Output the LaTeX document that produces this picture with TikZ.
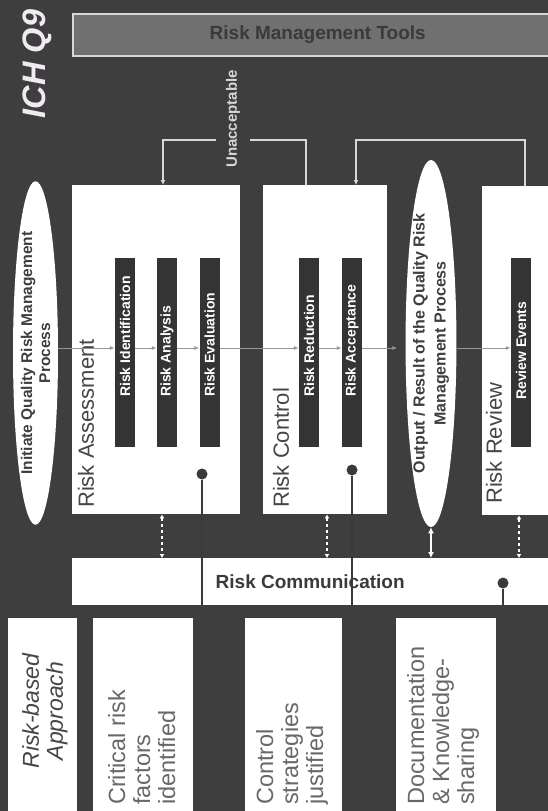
\documentclass[tikz,border=0pt]{standalone}
\usepackage{fontspec}
\setmainfont{Liberation Sans}
\usepackage{tikz}
\usetikzlibrary{arrows.meta}
\usetikzlibrary{shapes.geometric}

\definecolor{bgc}{RGB}{62,62,62}
\definecolor{barc}{RGB}{52,52,52}
\definecolor{toolc}{RGB}{112,112,112}
\definecolor{tooltxt}{RGB}{58,58,58}
\definecolor{labc}{RGB}{70,70,70}
\definecolor{ovalc}{RGB}{62,62,62}
\definecolor{outc}{RGB}{104,104,104}
\definecolor{flowc}{RGB}{150,150,150}
\definecolor{loopc}{RGB}{215,215,215}
\definecolor{titlec}{RGB}{242,234,242}

\begin{document}
\begin{tikzpicture}%
	[x=1pt, y=-1pt,
	box/.style={fill=white, inner sep=0pt, anchor=north west},
	bar/.style={fill=barc, minimum width=20pt, minimum height=189pt, inner sep=0pt},
	bartext/.style={rotate=90, anchor=west, inner sep=0pt, text=white, font=\bfseries\fontsize{14}{16}\selectfont},
	steplabel/.style={rotate=90, anchor=west, inner sep=0pt, text=labc, font=\fontsize{22}{26}\selectfont},
	oval/.style={ellipse, fill=white, rotate=90, inner sep=0pt, align=center, text=ovalc},
	flow/.style={draw=flowc, line width=1pt, -{Latex[length=5pt,width=4pt]}},
	loop/.style={draw=loopc, line width=1.4pt},
	link/.style={draw=white, line width=1.3pt, dashed, {Latex[length=4pt,width=5pt]}-{Latex[length=4pt,width=5pt]}},
	solidlink/.style={draw=white, line width=2pt, {Latex[length=6pt,width=6pt]}-{Latex[length=6pt,width=6pt]}},
	knob/.style={circle, fill=tooltxt, inner sep=0pt, minimum size=11pt},
	knobline/.style={draw=tooltxt, line width=1.4pt},
	outcome/.style={fill=white, anchor=north west, inner sep=0pt, minimum height=200pt},
	outtext/.style={rotate=90, anchor=north west, inner sep=0pt, align=left, text=outc, font=\fontsize{23.5}{25}\selectfont}]
%%
\useasboundingbox (0,0) rectangle (548,811);
\clip (0,0) rectangle (548,811);
\fill[bgc] (0,0) rectangle (548,811);
%%
%% Title and tools
%%
\node[rotate=90, inner sep=0pt, text=titlec, font=\bfseries\itshape\fontsize{32.5}{38}\selectfont] (title) at (37,64) {ICH Q9};
\node[box, draw=loopc, line width=1.5pt, fill=toolc, minimum width=490pt, minimum height=42pt, text=tooltxt, font=\bfseries\fontsize{19}{22}\selectfont] (tools) at (72,13) {Risk Management Tools};
%%
%% Start and output
%%
\node[oval, minimum width=330pt, minimum height=45pt, font=\bfseries\fontsize{15.5}{18}\selectfont] (init) at (35.5,353) {Initiate Quality Risk Management\\Process};
\node[oval, minimum width=337pt, minimum height=48pt, font=\bfseries\fontsize{16}{21}\selectfont] (out) at (431,343.5) {Output / Result of the Quality Risk\\Management Process};
%%
%% Stage boxes
%%
\node[box, minimum width=168pt, minimum height=329pt] (ra) at (72,185) {};
\node[box, minimum width=124pt, minimum height=329pt] (rc) at (263,185) {};
\node[box, minimum width=80pt, minimum height=329pt] (rr) at (482,186) {};
\node[steplabel] (ralab) at (86,508) {Risk Assessment};
\node[steplabel] (rclab) at (281,508) {Risk Control};
\node[steplabel] (rrlab) at (494,504) {Risk Review};
%%
%% Steps
%%
\node[bar] (rid) at (125,352.5) {};
\node[bar] (ran) at (167,352.5) {};
\node[bar] (rev) at (209.5,352.5) {};
\node[bar] (rred) at (309,352.5) {};
\node[bar] (racc) at (352,352.5) {};
\node[bar] (revt) at (521,352.5) {};
\node[bartext] (ridt) at (125,397) {Risk Identification};
\node[bartext] (rant) at (167,397) {Risk Analysis};
\node[bartext] (revtx) at (209.5,397) {Risk Evaluation};
\node[bartext] (rredt) at (309,397) {Risk Reduction};
\node[bartext] (racct) at (352,397) {Risk Acceptance};
\node[bartext] (revtt) at (521,400) {Review Events};
%%
%% Flow
%%
\coordinate (fl) at (0,348);
\draw[flow] (init.south |- fl) -- (rid.west |- fl);
\draw[flow] (rid.east |- fl) -- (ran.west |- fl);
\draw[flow] (ran.east |- fl) -- (rev.west |- fl);
\draw[flow] (rev.east |- fl) -- (rred.west |- fl);
\draw[flow] (rred.east |- fl) -- (racc.west |- fl);
\draw[flow] (racc.east |- fl) -- ([xshift=-8pt]out.north |- fl);
\draw[flow] (out.south |- fl) -- (revt.west |- fl);
%%
%% Feedback loops
%%
\coordinate (uy) at (0,140);
\draw[loop, -{Latex[length=5pt,width=5pt]}] ([xshift=43pt]rc.north west) |- ([xshift=91pt]ra.north west |- uy) -- ([xshift=91pt]ra.north west);
\draw[loop, -{Latex[length=5pt,width=5pt]}] ([xshift=43pt]rr.north west) |- ([xshift=93pt]rc.north west |- uy) -- ([xshift=93pt]rc.north west);
\node[rotate=90, fill=bgc, inner xsep=0pt, inner ysep=10pt, text=loopc, font=\bfseries\fontsize{15}{18}\selectfont] (unacc) at (233,119) {Unacceptable};
%%
%% Communication
%%
\node[box, minimum width=476pt, minimum height=47pt, text=tooltxt, font=\bfseries\fontsize{19}{22}\selectfont] (comm) at (72,558) {Risk Communication};
\draw[link] ([xshift=90pt]ra.south west) -- ([xshift=90pt]ra.south west |- comm.north);
\draw[link] ([xshift=64pt]rc.south west) -- ([xshift=64pt]rc.south west |- comm.north);
\draw[link] ([xshift=37pt]rr.south west) -- ([xshift=37pt]rr.south west |- comm.north);
\draw[solidlink] (out.west) -- (out.west |- comm.north);
\node[knob] (k1) at (202,474) {};
\node[knob] (k2) at (352,470) {};
\node[knob] (k3) at (503,583) {};
\draw[knobline] (k1) -- (k1 |- comm.south);
\draw[knobline] (k2) -- (k2 |- comm.south);
\draw[knobline] (k3) -- (k3 |- comm.south);
%%
%% Risk-based approach
%%
\node[outcome, minimum width=69pt] (rba) at (8,618) {};
\node[outcome, minimum width=100pt] (crit) at (93,618) {};
\node[outcome, minimum width=97pt] (ctrl) at (245,618) {};
\node[outcome, minimum width=100pt] (docu) at (396,618) {};
\node[rotate=90, align=center, inner sep=0pt, text=labc, font=\itshape\fontsize{23}{24}\selectfont] (rbat) at (45,711) {Risk-based\\Approach};
\node[outtext] (critt) at (108,805) {Critical risk\\factors\\identified};
\node[outtext] (ctrlt) at (256,805) {Control\\strategies\\justified};
\node[outtext] (docut) at (407,805) {Documentation\\\& Knowledge-\\sharing};
%%
\end{tikzpicture}
\end{document}
